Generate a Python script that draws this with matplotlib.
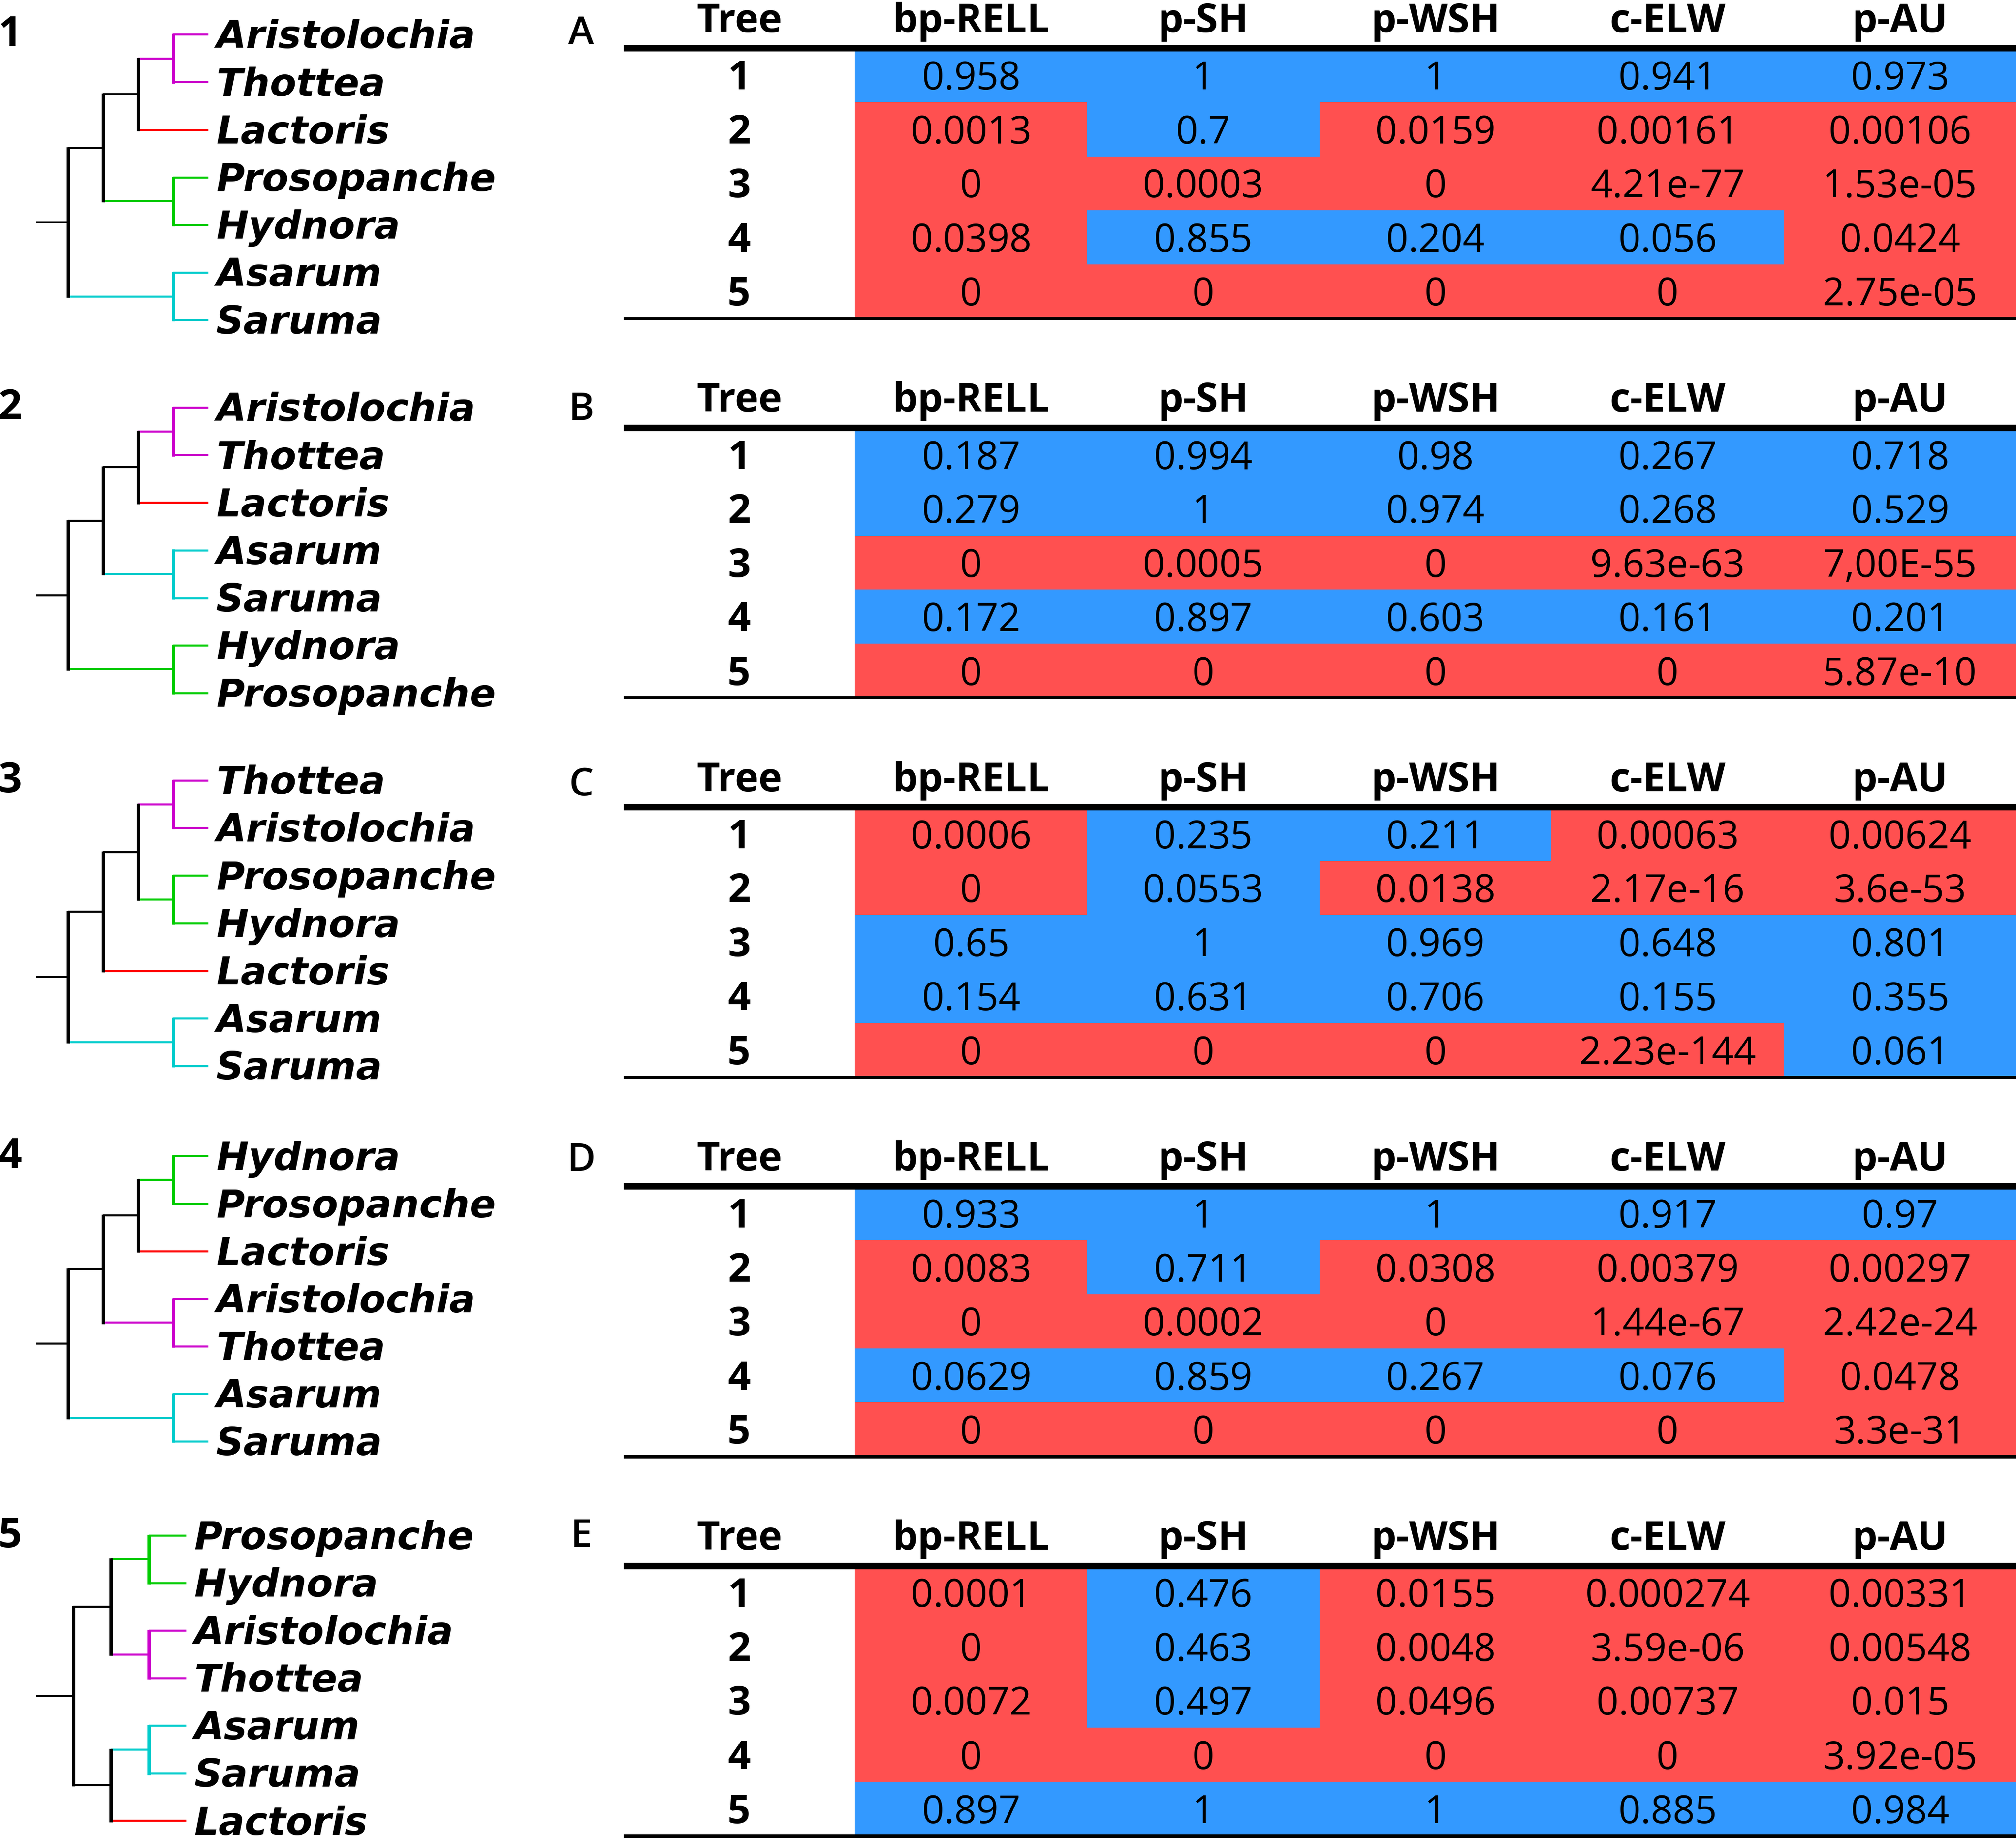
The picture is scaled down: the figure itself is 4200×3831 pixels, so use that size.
import matplotlib
matplotlib.use("Agg")
import matplotlib.pyplot as plt
from matplotlib.patches import Rectangle

# ---- data ----
tree_1 = (((("Aristolochia", "Thottea"), "Lactoris"), ("Prosopanche", "Hydnora")), ("Asarum", "Saruma"))
tree_2 = (((("Aristolochia", "Thottea"), "Lactoris"), ("Asarum", "Saruma")), ("Hydnora", "Prosopanche"))
tree_3 = (((("Thottea", "Aristolochia"), ("Prosopanche", "Hydnora")), "Lactoris"), ("Asarum", "Saruma"))
tree_4 = (((("Hydnora", "Prosopanche"), "Lactoris"), ("Aristolochia", "Thottea")), ("Asarum", "Saruma"))
tree_5 = ((("Prosopanche", "Hydnora"), ("Aristolochia", "Thottea")), (("Asarum", "Saruma"), "Lactoris"))
trees = [tree_1, tree_2, tree_3, tree_4, tree_5]
tree_numbers = ["1", "2", "3", "4", "5"]

taxon_color = {
    "Aristolochia": "#CC00CC", "Thottea": "#CC00CC",
    "Lactoris": "#FF0000",
    "Prosopanche": "#00CC00", "Hydnora": "#00CC00",
    "Asarum": "#00CCCC", "Saruma": "#00CCCC",
}

panel_letters = ["A", "B", "C", "D", "E"]
columns = ["Tree", "bp-RELL", "p-SH", "p-WSH", "c-ELW", "p-AU"]
row_labels = ["1", "2", "3", "4", "5"]

table_A = [["0.958", "1", "1", "0.941", "0.973"],
           ["0.0013", "0.7", "0.0159", "0.00161", "0.00106"],
           ["0", "0.0003", "0", "4.21e-77", "1.53e-05"],
           ["0.0398", "0.855", "0.204", "0.056", "0.0424"],
           ["0", "0", "0", "0", "2.75e-05"]]
table_B = [["0.187", "0.994", "0.98", "0.267", "0.718"],
           ["0.279", "1", "0.974", "0.268", "0.529"],
           ["0", "0.0005", "0", "9.63e-63", "7,00E-55"],
           ["0.172", "0.897", "0.603", "0.161", "0.201"],
           ["0", "0", "0", "0", "5.87e-10"]]
table_C = [["0.0006", "0.235", "0.211", "0.00063", "0.00624"],
           ["0", "0.0553", "0.0138", "2.17e-16", "3.6e-53"],
           ["0.65", "1", "0.969", "0.648", "0.801"],
           ["0.154", "0.631", "0.706", "0.155", "0.355"],
           ["0", "0", "0", "2.23e-144", "0.061"]]
table_D = [["0.933", "1", "1", "0.917", "0.97"],
           ["0.0083", "0.711", "0.0308", "0.00379", "0.00297"],
           ["0", "0.0002", "0", "1.44e-67", "2.42e-24"],
           ["0.0629", "0.859", "0.267", "0.076", "0.0478"],
           ["0", "0", "0", "0", "3.3e-31"]]
table_E = [["0.0001", "0.476", "0.0155", "0.000274", "0.00331"],
           ["0", "0.463", "0.0048", "3.59e-06", "0.00548"],
           ["0.0072", "0.497", "0.0496", "0.00737", "0.015"],
           ["0", "0", "0", "0", "3.92e-05"],
           ["0.897", "1", "1", "0.885", "0.984"]]
tables = [table_A, table_B, table_C, table_D, table_E]

alpha = 0.05
BLUE = "#3399FF"
RED = "#FF5050"

# ---- layout (units of a 1568 x 1430 canvas) ----
W, H = 1568, 1430
PT = 72 * 4200 / W / 100   # points per canvas unit

fig = plt.figure(figsize=(42, 38.31), dpi=100)
ax = fig.add_axes([0, 0, 1, 1])
ax.set_xlim(0, W)
ax.set_ylim(H, 0)
ax.axis("off")

lab_font = dict(family="DejaVu Sans", weight="bold", style="italic", size=30 * PT)
num_font = dict(family="Open Sans", size=30 * PT)
head_font = dict(family="Open Sans", weight="bold", size=31 * PT)


def height(node):
    if isinstance(node, str):
        return 0
    return max(height(c) for c in node) + 1


def leaves(node):
    if isinstance(node, str):
        return [node]
    return [l for c in node for l in leaves(c)]


def clade_color(node):
    cols = {taxon_color[l] for l in leaves(node)}
    return cols.pop() if len(cols) == 1 else "black"


def draw_tree(tree, y0, dy, x_stub, x_root, x_tip):
    step = (x_tip - x_root) / height(tree)
    order = iter(range(len(leaves(tree))))
    lw_h, lw_v = 1.6 * PT, 2.6 * PT

    def place(node):
        if isinstance(node, str):
            y = y0 + dy * next(order)
            ax.text(x_tip + 6, y + 10.5, node, ha="left", va="baseline", **lab_font)
            return x_tip, y
        x = x_tip - step * height(node)
        pts = [place(c) for c in node]
        for c, (cx, cy) in zip(node, pts):
            ax.plot([x, cx], [cy, cy], color=clade_color(c), lw=lw_h, solid_capstyle="butt")
        ax.plot([x, x], [pts[0][1] - 0.8, pts[-1][1] + 0.8], color=clade_color(node), lw=lw_v,
                solid_capstyle="butt")
        return x, (pts[0][1] + pts[-1][1]) / 2

    rx, ry = place(tree)
    ax.plot([x_stub, rx], [ry, ry], color="black", lw=lw_h, solid_capstyle="butt")


tree_y0 = [27, 317, 607, 899, 1194]
tree_x = [(28, 53, 162), (28, 53, 162), (28, 53, 162), (28, 53, 162), (28, 57, 145)]
for i, tree in enumerate(trees):
    xs, xr, xt = tree_x[i]
    draw_tree(tree, tree_y0[i], 37, xs, xr, xt)
    ax.text(8, tree_y0[i] + 9, tree_numbers[i], ha="center", va="baseline",
            family="Open Sans", weight="bold", size=32 * PT)

# tables
t_left, t_first, col_w = 485, 665, (W - 665) / 5
row_h = 42
for i, tab in enumerate(tables):
    top = 37.5 + 295 * i
    ax.text(452, top - 3 - 3 * i, panel_letters[i],
            ha="center", va="baseline", family="Open Sans", weight="semibold", size=30 * PT)
    for j, name in enumerate(columns):
        cx = (t_left + t_first) / 2 if j == 0 else t_first + col_w * (j - 0.5)
        ax.text(cx, top - 12.5, name, ha="center", va="baseline", **head_font)
    for r, row in enumerate(tab):
        y = top + row_h * r
        ax.text((t_left + t_first) / 2, y + row_h / 2 + 11, row_labels[r],
                ha="center", va="baseline", **head_font)
        for c, val in enumerate(row):
            v = float(val.replace(",", "."))
            ax.add_patch(Rectangle((t_first + col_w * c, y), col_w + 0.3, row_h + 0.3,
                                   facecolor=BLUE if v >= alpha else RED, edgecolor="none"))
            ax.text(t_first + col_w * (c + 0.5), y + row_h / 2 + 11, val,
                    ha="center", va="baseline", **num_font)
    ax.plot([t_left, W], [top, top], color="black", lw=5 * PT, solid_capstyle="butt")
    ax.plot([t_left, W], [top + 5 * row_h, top + 5 * row_h], color="black",
            lw=2.6 * PT, solid_capstyle="butt")

fig.savefig("out.png", dpi=100, facecolor="white")
